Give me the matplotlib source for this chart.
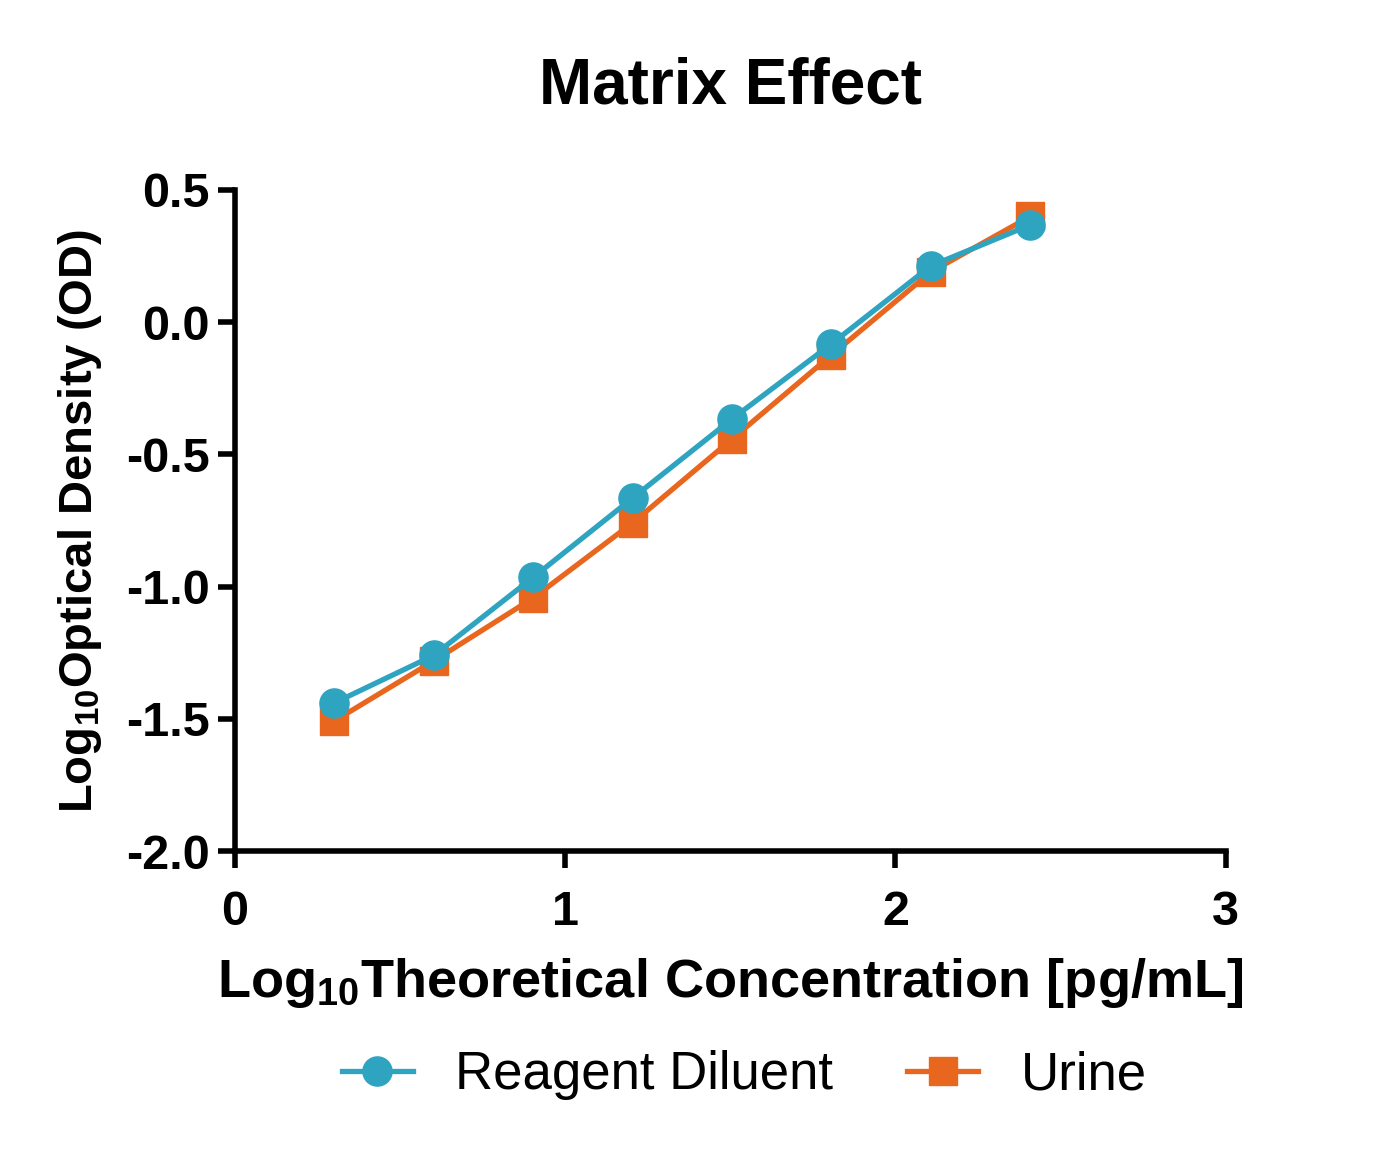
import matplotlib
matplotlib.use("Agg")
import matplotlib.pyplot as plt
import numpy as np

plt.rcParams['font.family'] = ['Liberation Sans', 'DejaVu Sans']
plt.rcParams['mathtext.fontset'] = 'custom'
plt.rcParams['mathtext.rm'] = 'Liberation Sans'
plt.rcParams['mathtext.bf'] = 'Liberation Sans:bold'

# datos
conc = [2, 4, 8, 16, 32, 64, 128, 256]
reagent = [-1.44, -1.26, -0.965, -0.665, -0.366, -0.082, 0.213, 0.368]
urine = [-1.508, -1.281, -1.043, -0.759, -0.442, -0.124, 0.19, 0.40]
x = np.log10(conc)

azul = '#2EA4C0'
naranja = '#E9661F'

fig = plt.figure(figsize=(13.78, 11.55), dpi=100)
ax = fig.add_axes([0.1705, 0.2632, 0.719, 0.5723])

ax.plot(x, urine, color=naranja, lw=3.8, marker='s', ms=20, label='Urine', zorder=3)
ax.plot(x, reagent, color=azul, lw=3.8, marker='o', ms=21, label='Reagent Diluent', zorder=4)

ax.set_xlim(0, 3)
ax.set_ylim(-2.0, 0.5)
ax.set_xticks([0, 1, 2, 3])
ax.set_yticks([-2.0, -1.5, -1.0, -0.5, 0.0, 0.5])
ax.set_yticklabels(['-2.0', '-1.5', '-1.0', '-0.5', '0.0', '0.5'])

for s in ['top', 'right']:
    ax.spines[s].set_visible(False)
for s in ['left', 'bottom']:
    ax.spines[s].set_linewidth(4)
ax.tick_params(width=4, length=12, labelsize=35)
ax.tick_params(axis='x', pad=16)
ax.tick_params(axis='y', pad=6)
for lab in ax.get_xticklabels() + ax.get_yticklabels():
    lab.set_fontweight('bold')

ax.set_title('Matrix Effect', fontsize=46, fontweight='bold', pad=62)
ax.set_xlabel(r'Log$_{\mathbf{10}}$Theoretical Concentration [pg/mL]', fontsize=39, fontweight='bold', labelpad=15)
ax.set_ylabel(r'Log$_{\mathbf{10}}$Optical Density (OD)', fontsize=34, fontweight='bold', labelpad=16)

h, l = ax.get_legend_handles_labels()
fig.legend(h[::-1], l[::-1], loc='center', bbox_to_anchor=(0.54, 0.069), ncol=2,
           frameon=False, fontsize=38, handlelength=1.35, columnspacing=1.4, handletextpad=0.8)

fig.savefig('out.png', dpi=100)
